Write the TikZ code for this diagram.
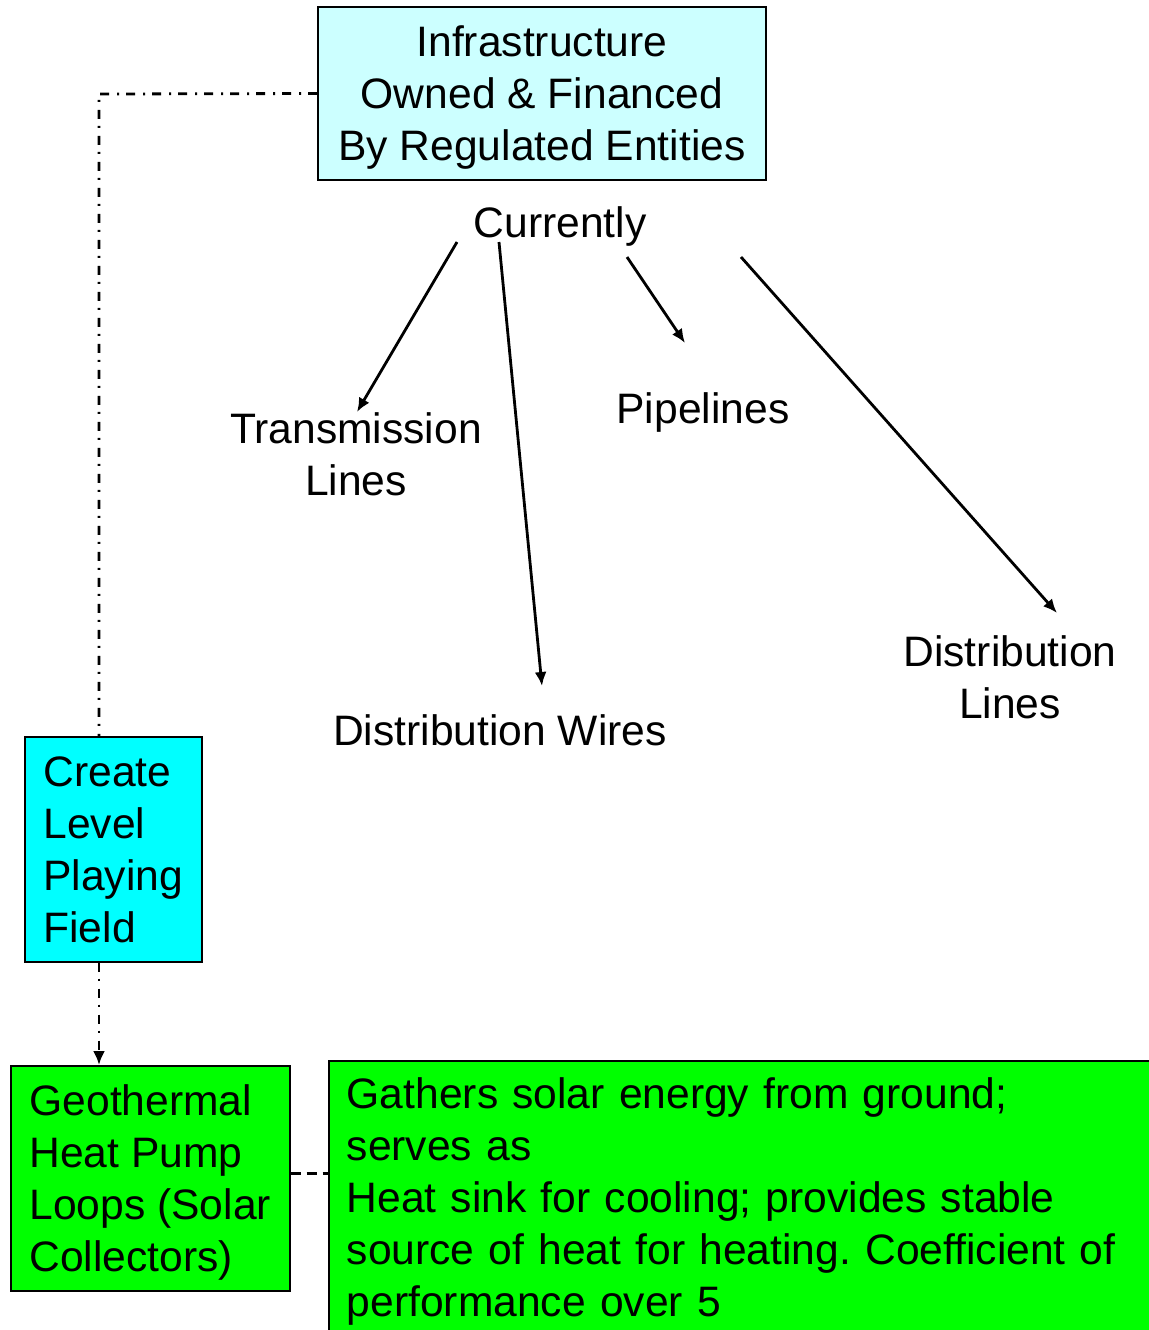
\documentclass[tikz,border=0pt]{standalone}
\usepackage{fontspec}
\setmainfont{Liberation Sans}
\usetikzlibrary{arrows.meta}
\definecolor{lightcyan}{RGB}{204,255,255}
\definecolor{fieldcyan}{RGB}{0,255,255}
\definecolor{loopgreen}{RGB}{0,255,0}

\begin{document}
\frenchspacing
\begin{tikzpicture}[x=0.5pt,y=-0.5pt,>={Latex[length=7pt,width=6pt]},
	font=\fontsize{21.3}{26}\selectfont,
	label/.style={text depth=0pt},
	box/.style={draw,line width=0.8pt,inner sep=0pt,align=left},
	link/.style={line width=1.4pt,->},
	dashdot/.style={line width=1.4pt,dash pattern=on 4.5pt off 3.5pt on 1pt off 4pt}]

\useasboundingbox (0,0) rectangle (1149,1330);
\clip (0,0) rectangle (1149,1330);

\node[box,label,fill=lightcyan,minimum width=224pt,minimum height=86.5pt,align=center]
	(infra) at (542,93.5) {Infrastructure\\Owned \& Financed\\By Regulated Entities};
\node[label] (cur) at (560,222) {Currently};
\node[label,align=center] (trans) at (356,454) {Transmission\\Lines};
\node[label] (pipe) at (703,408) {Pipelines};
\node[label] (wires) at (500,730) {Distribution Wires};
\node[label,align=center] (dlines) at (1010,677) {Distribution\\Lines};

\node[box,label,fill=fieldcyan,minimum width=88.5pt,minimum height=112.5pt,anchor=north west]
	(field) at (24,736) {Create\\Level\\Playing\\Field};
\node[box,label,fill=loopgreen,minimum width=139.5pt,minimum height=112.5pt,anchor=north west]
	(geo) at (10,1065) {Geothermal\\Heat Pump\\Loops (Solar\\Collectors)};
\node[box,fill=loopgreen,text width=405pt,inner xsep=9pt,minimum height=141pt,anchor=north west]
	(gather) at (328,1060) {Gathers solar energy from ground;\\serves as\\Heat sink for cooling; provides stable\\source of heat for heating. Coefficient of\\performance over 5};

% arrows out of "Currently"
\coordinate (c1) at (457,242);
\coordinate (c2) at (499,242);
\coordinate (c3) at (627,257);
\coordinate (c4) at (741,257);
\coordinate (t1) at (357,412);
\coordinate (t2) at (542,686);
\coordinate (t3) at (685,343);
\coordinate (t4) at (1057,613);
\draw[link] (c1) -- (t1);
\draw[link] (c2) -- (t2);
\draw[link] (c3) -- (t3);
\draw[link] (c4) -- (t4);

% side chain
\coordinate (bend) at (99,94);
\draw[dashdot] (infra.west) -- (bend) -- (bend |- field.north);
\draw[dashdot,->] (bend |- field.south) -- (bend |- geo.north);
\draw[line width=1.4pt,dash pattern=on 5pt off 3pt] ([yshift=2.5pt]geo.east) -- ([yshift=2.5pt]geo.east -| gather.west);

\end{tikzpicture}
\end{document}
